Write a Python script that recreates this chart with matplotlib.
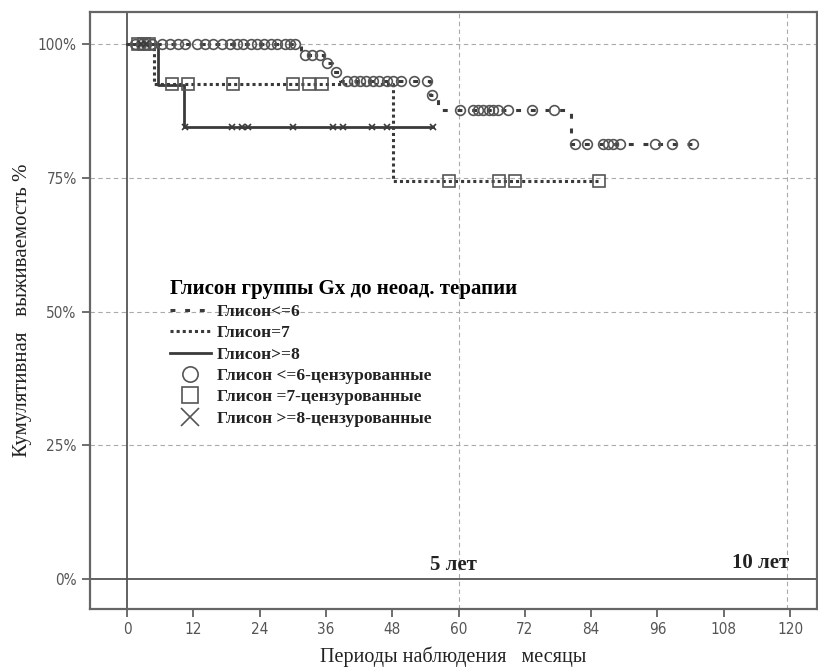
import matplotlib.pyplot as plt
from matplotlib.lines import Line2D
import numpy as np

# Kaplan-Meier steps (months, survival %) for each Gleason group
t_le6 = [0, 31.5, 35.6, 37.1, 38.6, 54.9, 56.3, 80.4, 102.4]
s_le6 = [100, 97.9, 96.4, 94.8, 93.2, 90.5, 87.7, 81.3, 81.3]

t_eq7 = [0, 4.9, 48.2, 85.4]
s_eq7 = [100, 92.6, 74.4, 74.4]

t_ge8 = [0, 5.6, 10.3, 55.4]
s_ge8 = [100, 92.3, 84.6, 84.6]

# censored observations
cens_le6 = [1.5, 2.5, 3.5, 4.5, 6.3, 7.8, 9.2, 10.5, 12.7, 14.1, 15.6, 17.2,
            18.6, 19.9, 21.0, 22.4, 23.6, 24.8, 26.0, 27.2, 28.6, 29.5, 30.4,
            32.2, 33.5, 34.9, 36.2, 37.8,
            39.8, 41.0, 42.2, 43.3, 44.5, 45.6, 47.0, 48.2, 49.5, 52.0, 54.3,
            55.2,
            60.2, 62.6, 63.6, 64.5, 65.5, 66.3, 67.2, 69.0, 73.3, 77.3,
            81.1, 83.3, 86.2, 87.0, 88.0, 89.2, 95.6, 98.6, 102.4]
cens_eq7 = [2.0, 3.0, 4.0, 8.1, 11.0, 19.2, 30.0, 33.0, 35.3,
            58.3, 67.3, 70.2, 85.4]
cens_ge8 = [2.5, 3.5, 10.5, 19.0, 20.8, 21.9, 30.0, 37.3, 39.0, 44.3, 47.0, 55.4]

x_ticks = [0, 12, 24, 36, 48, 60, 72, 84, 96, 108, 120]
y_ticks = [0, 25, 50, 75, 100]

labels = ['Глисон<=6', 'Глисон=7', 'Глисон>=8',
          'Глисон <=6-цензурованные', 'Глисон =7-цензурованные',
          'Глисон >=8-цензурованные']


def surv_at(t, steps_t, steps_s):
    idx = np.searchsorted(steps_t, t, side='right') - 1
    return np.array(steps_s)[idx]


line_col = '#3a3a3a'
mark_col = '#555555'
ls_le6 = (0, (1.6, 3.2))
ls_eq7 = (0, (1.0, 1.0))

fig = plt.figure(figsize=(8.18, 6.70), dpi=100)
ax = fig.add_axes([0.110, 0.091, 0.889, 0.891])

# reference lines
for y in [25, 50, 75, 100]:
    ax.axhline(y, color='#aaaaaa', lw=0.8, ls=(0, (4, 3)), zorder=1)
for x in [60, 119.5]:
    ax.axvline(x, color='#aaaaaa', lw=0.8, ls=(0, (4, 3)), zorder=1)
ax.axhline(0, color='#555555', lw=1.3, zorder=1)
ax.axvline(0, color='#555555', lw=1.3, zorder=1)

ax.step(t_le6, s_le6, where='post', color=line_col, lw=2.2, ls=ls_le6, zorder=3)
ax.step(t_eq7, s_eq7, where='post', color=line_col, lw=2.2, ls=ls_eq7, zorder=3)
ax.step(t_ge8, s_ge8, where='post', color=line_col, lw=2.0, zorder=3)

ax.plot(cens_le6, surv_at(cens_le6, t_le6, s_le6), 'o', ms=7, mfc='none',
        mec=mark_col, mew=1.2, zorder=4)
ax.plot(cens_eq7, surv_at(cens_eq7, t_eq7, s_eq7), 's', ms=8, mfc='none',
        mec=mark_col, mew=1.2, zorder=4)
ax.plot(cens_ge8, surv_at(cens_ge8, t_ge8, s_ge8), 'x', ms=5, mec=line_col,
        mew=1.2, zorder=4)

ax.set_xlim(-6.7, 124.9)
ax.set_ylim(-5.6, 106)
ax.set_xticks(x_ticks)
ax.set_yticks(y_ticks)
ax.set_yticklabels([f'{v}%' for v in y_ticks])
for lab in ax.get_xticklabels() + ax.get_yticklabels():
    lab.set_family('DejaVu Sans')
    lab.set_stretch('condensed')
    lab.set_fontsize(11)
    lab.set_color('#555555')
ax.tick_params(axis='both', color='#555555', width=1.2, length=6)
for sp in ax.spines.values():
    sp.set_color('#666666')
    sp.set_linewidth(1.6)

ax.set_ylabel('Кумулятивная   выживаемость %', family='Liberation Serif',
              fontsize=15, color='#222222', labelpad=4)
ax.set_xlabel('Периоды наблюдения   месяцы', family='Liberation Serif',
              fontsize=14.5, color='#222222', labelpad=7)

ax.text(59, 2.6, '5 лет', family='Liberation Serif', fontweight='bold',
        fontsize=15, ha='center', va='center', color='#222222')
ax.text(114.6, 3.0, '10 лет', family='Liberation Serif', fontweight='bold',
        fontsize=15, ha='center', va='center', color='#222222')

handles = [
    Line2D([], [], color=line_col, lw=2.2, ls=ls_le6),
    Line2D([], [], color=line_col, lw=2.2, ls=ls_eq7),
    Line2D([], [], color=line_col, lw=2.0),
    Line2D([], [], ls='none', marker='o', ms=11, mfc='none', mec=mark_col, mew=1.2),
    Line2D([], [], ls='none', marker='s', ms=12, mfc='none', mec=mark_col, mew=1.2),
    Line2D([], [], ls='none', marker='x', ms=13, mec=mark_col, mew=1.2),
]
leg = ax.legend(handles, labels, loc='upper left', bbox_to_anchor=(0.1, 0.565),
                frameon=False, title='Глисон группы Gx до неоад. терапии',
                prop={'family': 'Liberation Serif', 'weight': 'bold', 'size': 12.5},
                handlelength=2.4, handletextpad=0.3, labelspacing=0.3,
                borderaxespad=0)
leg.get_title().set_fontproperties({'family': 'Liberation Serif',
                                    'weight': 'bold', 'size': 15})
leg._legend_box.align = 'left'
for t in leg.get_texts():
    t.set_color('#222222')

fig.savefig('out.png', dpi=100)
